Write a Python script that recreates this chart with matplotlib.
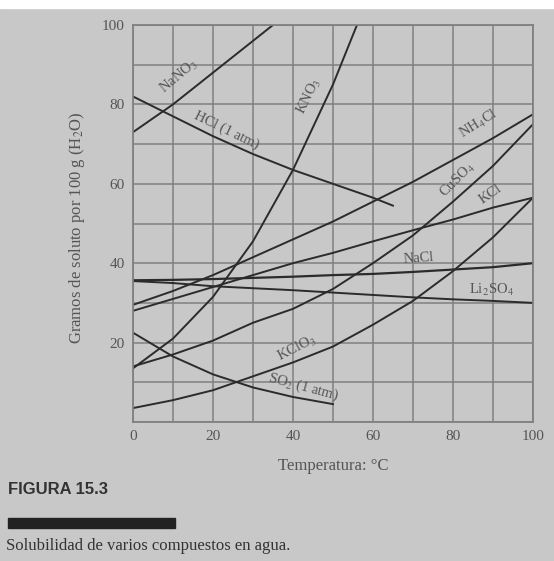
import numpy as np
import matplotlib
matplotlib.use("Agg")
import matplotlib.pyplot as plt
from matplotlib.patches import Rectangle

# temperaturas (C) y solubilidades (g / 100 g H2O)
temps = [0, 10, 20, 30, 40, 50, 60, 70, 80, 90, 100]

nano3_t = [0, 10, 20, 30, 40]
nano3 = [73, 80, 88, 96, 104]

hcl_t = [0, 10, 20, 30, 40, 50, 60, 65]
hcl = [82, 77, 72, 67.5, 63.5, 60, 56.5, 54.5]

kno3_t = [0, 10, 20, 30, 40, 50, 60]
kno3 = [13.5, 21, 31.5, 45.5, 63.5, 85, 110]

nh4cl = [29.5, 33, 37, 41.5, 46, 50.5, 55.5, 60.5, 66, 71.5, 77.5]
cuso4 = [14, 17, 20.5, 25, 28.5, 33.5, 40, 47, 55.5, 64.5, 75]
kcl = [28, 31, 34, 37, 40, 42.6, 45.5, 48.3, 51, 54, 56.5]
nacl = [35.7, 35.8, 36, 36.3, 36.6, 37, 37.3, 37.8, 38.4, 39, 40]
li2so4 = [35.5, 35, 34.2, 33.7, 33.2, 32.6, 32, 31.4, 30.9, 30.5, 30]
kclo3 = [3.5, 5.5, 8, 11.5, 15, 19, 24.5, 30.5, 38, 46.5, 56.5]

so2_t = [0, 10, 20, 30, 40, 50]
so2 = [22.5, 16.5, 12, 8.7, 6.3, 4.5]

x_ticks = [0, 20, 40, 60, 80, 100]
y_ticks = [20, 40, 60, 80, 100]

plt.rcParams["font.family"] = ["Liberation Serif", "DejaVu Serif"]
plt.rcParams["mathtext.fontset"] = "stix"

bg = "#c8c8c8"
line_col = "#2b2b2b"
grid_col = "#808080"
txt_col = "#555555"

fig = plt.figure(figsize=(5.54, 5.61), dpi=100, facecolor=bg)
ax = fig.add_axes([0.240, 0.2478, 0.722, 0.7076])
ax.set_facecolor(bg)

ax.plot(nano3_t, nano3, color=line_col, lw=1.4)
ax.plot(hcl_t, hcl, color=line_col, lw=1.4)
ax.plot(kno3_t, kno3, color=line_col, lw=1.4)
ax.plot(temps, nh4cl, color=line_col, lw=1.4)
ax.plot(temps, cuso4, color=line_col, lw=1.4)
ax.plot(temps, kcl, color=line_col, lw=1.4)
ax.plot(temps, nacl, color=line_col, lw=1.6)
ax.plot(temps, li2so4, color=line_col, lw=1.4)
ax.plot(temps, kclo3, color=line_col, lw=1.4)
ax.plot(so2_t, so2, color=line_col, lw=1.4)

ax.set_xlim(0, 100)
ax.set_ylim(0, 100)
ax.set_xticks(x_ticks)
ax.set_yticks(y_ticks)
ax.set_xticks(np.arange(0, 101, 10), minor=True)
ax.set_yticks(np.arange(0, 101, 10), minor=True)
ax.grid(which="both", color=grid_col, lw=1.1)
ax.set_axisbelow(True)
ax.tick_params(which="both", length=0, labelsize=11, labelcolor=txt_col, pad=6)
for s in ax.spines.values():
    s.set_color(grid_col)
    s.set_linewidth(1.3)

ax.set_xlabel("Temperatura: °C", fontsize=12, color=txt_col)
ax.set_ylabel("Gramos de soluto por 100 g (H$_2$O)", fontsize=12, color=txt_col)
ax.xaxis.set_label_coords(0.5, -0.09)
ax.yaxis.set_label_coords(-0.115, 0.49)

# etiquetas de las curvas
lab = dict(fontsize=10.5, color=txt_col, ha="center", va="center")
ax.text(11.5, 87, "NaNO$_3$", rotation=40, **lab)
ax.text(23.5, 73.5, "HCl (1 atm)", rotation=-26, **lab)
ax.text(44, 82, "KNO$_3$", rotation=64, **lab)
ax.text(86.5, 75, "NH$_4$Cl", rotation=32, **lab)
ax.text(81, 61, "CuSO$_4$", rotation=45, **lab)
ax.text(89.5, 57.5, "KCl", rotation=35, **lab)
ax.text(71.5, 41.3, "NaCl", rotation=4, **lab)
ax.text(89.5, 33.2, "Li$_2$SO$_4$", rotation=0, **lab)
ax.text(41, 18.6, "KClO$_3$", rotation=27, **lab)
ax.text(42.5, 8.8, "SO$_2$ (1 atm)", rotation=-15, **lab)

# franja blanca superior del escaneo
fig.add_artist(Rectangle((0, 1 - 8 / 561), 1, 8 / 561, transform=fig.transFigure,
                         color="white", zorder=0))

fig.text(8 / 554, 1 - 490 / 561, "FIGURA 15.3", family="Liberation Sans",
         weight="bold", fontsize=12, color="#333333", va="center")
fig.add_artist(Rectangle((8 / 554, 1 - 528 / 561), 167 / 554, 10 / 561,
                         transform=fig.transFigure, color="#222222"))
fig.text(6 / 554, 1 - 546 / 561, "Solubilidad de varios compuestos en agua.",
         fontsize=12, color="#333333", va="center")

fig.savefig("out.png", dpi=100, facecolor=bg)
